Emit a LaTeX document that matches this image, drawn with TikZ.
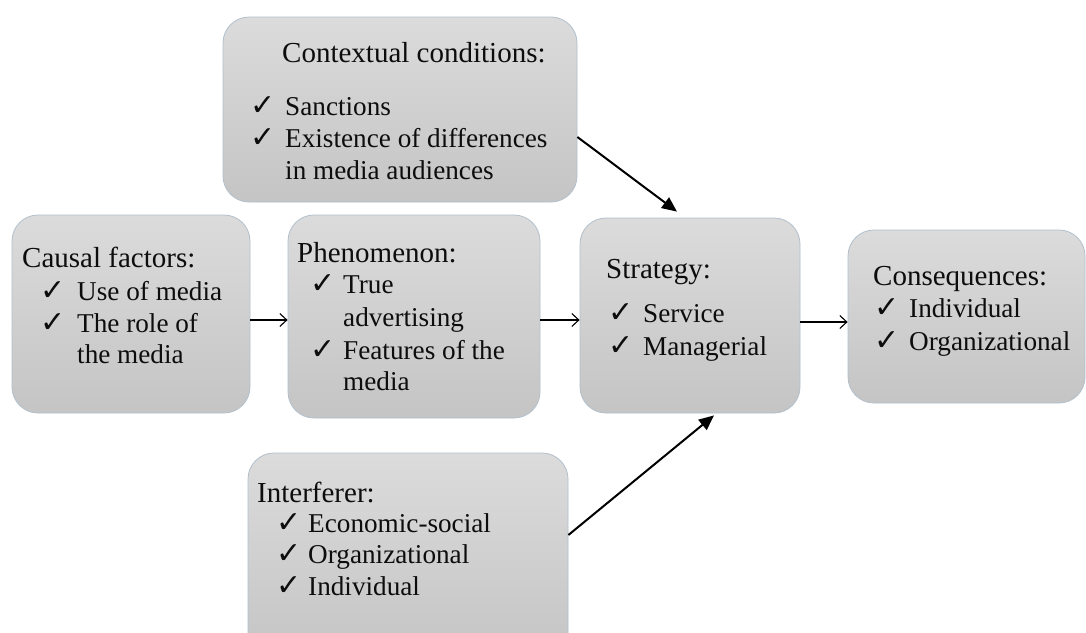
\documentclass[tikz,border=0pt]{standalone}
\usepackage{fontspec}
\setmainfont{Liberation Serif}
\newfontfamily\dejavu{DejaVu Sans}
\usetikzlibrary{arrows.meta}
\begin{document}
\begin{tikzpicture}[x=1pt,y=-1pt,
  box/.style={rounded corners=26pt, draw={rgb,255:red,178;green,192;blue,204},
    line width=0.8pt, top color=white!86!black, bottom color=white!77!black,
    inner sep=0pt},
  hd/.style={anchor=base west, inner sep=0pt, text=black!95,
    font=\fontsize{29}{30}\selectfont},
  it/.style={anchor=base west, inner sep=0pt, text=black!95,
    font=\fontsize{27.2}{30}\selectfont},
  ck/.style={anchor=base west, inner sep=0pt, text=black!95,
    font=\dejavu\fontsize{30}{32}\selectfont},
  flow/.style={line width=1.1pt, -{Straight Barb[length=7pt,width=13pt,line width=1.1pt]}},
  push/.style={line width=2pt, -{Triangle[length=15pt,width=13pt]}}]
\useasboundingbox (0,0) rectangle (1086,632);
\clip (0,0) rectangle (1086,632);
\fill[white] (0,0) rectangle (1086,632);

% boxes
\node[box, minimum width=354pt, minimum height=185pt] (ctx)   at (400,109.5) {};
\node[box, minimum width=238pt, minimum height=198pt] (cause) at (131,314)   {};
\node[box, minimum width=252pt, minimum height=203pt] (phen)  at (414,316.5) {};
\node[box, minimum width=220pt, minimum height=195pt] (strat) at (690,315.5) {};
\node[box, minimum width=237pt, minimum height=173pt] (cons)  at (966.5,316.5) {};
\node[box, minimum width=320pt, minimum height=207pt] (intf)  at (408,556.5) {};

% contextual conditions
\node[hd] (ctxh) at (282,62) {Contextual conditions:};
\node[ck] (ctxc1) at (250,115) {✓};
\node[it] (ctxt1) at (285,115) {Sanctions};
\node[ck] (ctxc2) at (250,147) {✓};
\node[it] (ctxt2) at (285,147) {Existence of differences};
\node[it] (ctxt3) at (285,179) {in media audiences};

% causal factors
\node[hd] (cah) at (22,267) {Causal factors:};
\node[ck] (cac1) at (40,300) {✓};
\node[it] (cat1) at (77,300) {Use of media};
\node[ck] (cac2) at (40,332) {✓};
\node[it] (cat2) at (77,332) {The role of};
\node[it] (cat3) at (77,363) {the media};

% phenomenon
\node[hd] (phh) at (297,262) {Phenomenon:};
\node[ck] (phc1) at (310,293) {✓};
\node[it] (pht1) at (343,293) {True};
\node[it] (pht2) at (343,326) {advertising};
\node[ck] (phc2) at (310,359) {✓};
\node[it] (pht3) at (343,359) {Features of the};
\node[it] (pht4) at (343,390) {media};

% strategy
\node[hd] (sth) at (606,278) {Strategy:};
\node[ck] (stc1) at (608,322) {✓};
\node[it] (stt1) at (643,322) {Service};
\node[ck] (stc2) at (608,355) {✓};
\node[it] (stt2) at (643,355) {Managerial};

% consequences
\node[hd] (coh) at (873,285) {Consequences:};
\node[ck] (coc1) at (874,317) {✓};
\node[it] (cot1) at (909,317) {Individual};
\node[ck] (coc2) at (874,350) {✓};
\node[it] (cot2) at (909,350) {Organizational};

% interferer
\node[hd] (inh) at (257,502) {Interferer:};
\node[ck] (inc1) at (276,532) {✓};
\node[it] (int1) at (308,532) {Economic-social};
\node[ck] (inc2) at (276,563) {✓};
\node[it] (int2) at (308,563) {Organizational};
\node[ck] (inc3) at (276,595) {✓};
\node[it] (int3) at (308,595) {Individual};

% connectors
\coordinate (row) at (0,320);
\coordinate (row2) at (0,322);
\draw[flow] (cause.east |- row) -- (phen.west |- row);
\draw[flow] (phen.east |- row) -- (strat.west |- row);
\draw[flow] (strat.east |- row2) -- (cons.west |- row2);
\draw[push] ([yshift=-27.5pt]ctx.east) -- ([xshift=-13pt,yshift=6pt]strat.north);
\draw[push] ([yshift=21.5pt]intf.east) -- ([xshift=24pt,yshift=-2pt]strat.south);
\end{tikzpicture}
\end{document}
